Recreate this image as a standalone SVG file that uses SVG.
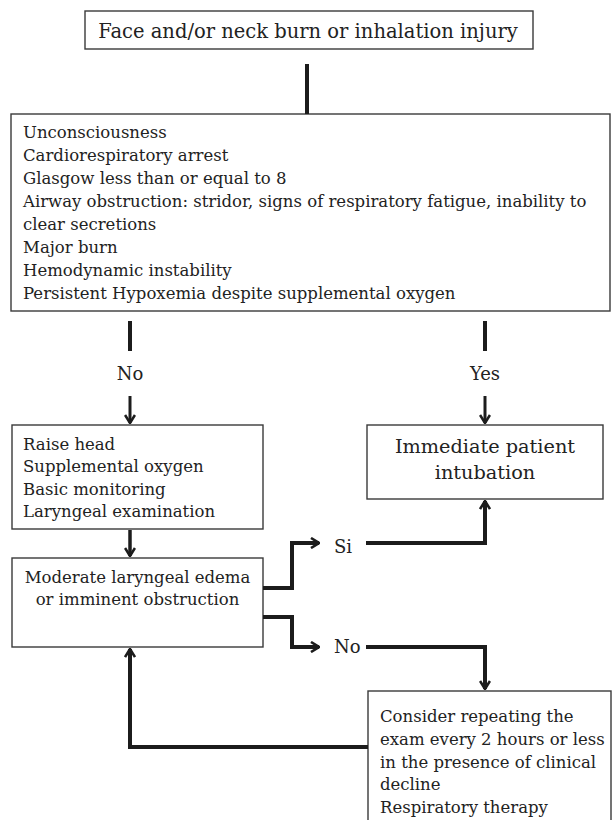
<svg xmlns="http://www.w3.org/2000/svg" width="613" height="820" viewBox="0 0 613 820">
<defs>
<style>
.box{fill:#fff;stroke:#3a3a3a;stroke-width:1.4}
.t{font-family:"DejaVu Serif","Liberation Serif",serif;font-size:16.5px;fill:#222}
.c{text-anchor:middle}
.ln{fill:none;stroke:#1c1c1c;stroke-width:4;stroke-linejoin:miter}
</style>
<marker id="arr" viewBox="0 0 12 12" refX="11" refY="6" markerWidth="12" markerHeight="12" markerUnits="userSpaceOnUse" orient="auto">
<path d="M3,1 L11,6 L3,11" fill="none" stroke="#1c1c1c" stroke-width="2.6"/>
</marker>
</defs>
<rect width="613" height="820" fill="#fff"/>

<g id="n-top">
<rect class="box" x="85" y="11" width="448" height="38"/>
<text class="t c" x="308" y="38" style="font-size:19.5px">Face and/or neck burn or inhalation injury</text>
</g>

<g id="n-criteria">
<rect class="box" x="11" y="114" width="599" height="197"/>
<text class="t" x="23" y="138">Unconsciousness</text>
<text class="t" x="23" y="161">Cardiorespiratory arrest</text>
<text class="t" x="23" y="184">Glasgow less than or equal to 8</text>
<text class="t" x="23" y="207">Airway obstruction: stridor, signs of respiratory fatigue, inability to</text>
<text class="t" x="23" y="230">clear secretions</text>
<text class="t" x="23" y="253">Major burn</text>
<text class="t" x="23" y="276">Hemodynamic instability</text>
<text class="t" x="23" y="299">Persistent Hypoxemia despite supplemental oxygen</text>
</g>

<g id="n-raise">
<rect class="box" x="12" y="425" width="251" height="104"/>
<text class="t" x="23" y="450">Raise head</text>
<text class="t" x="23" y="472">Supplemental oxygen</text>
<text class="t" x="23" y="495">Basic monitoring</text>
<text class="t" x="23" y="517">Laryngeal examination</text>
</g>

<g id="n-intubation">
<rect class="box" x="367" y="425" width="236" height="74"/>
<text class="t c" x="485" y="453" style="font-size:19.3px">Immediate patient</text>
<text class="t c" x="485" y="479" style="font-size:19.3px">intubation</text>
</g>

<g id="n-edema">
<rect class="box" x="12" y="558" width="251" height="89"/>
<text class="t c" x="137.5" y="583">Moderate laryngeal edema</text>
<text class="t c" x="137.5" y="605">or imminent obstruction</text>
</g>

<g id="n-repeat">
<rect class="box" x="368" y="691" width="243" height="140"/>
<text class="t" x="380" y="722">Consider repeating the</text>
<text class="t" x="380" y="745">exam every 2 hours or less</text>
<text class="t" x="380" y="768">in the presence of clinical</text>
<text class="t" x="380" y="790">decline</text>
<text class="t" x="380" y="813">Respiratory therapy</text>
</g>

<g id="labels">
<text class="t c" x="130" y="380" style="font-size:18px">No</text>
<text class="t c" x="485" y="380" style="font-size:18px">Yes</text>
<text class="t" x="334" y="553" style="font-size:18px">Si</text>
<text class="t" x="334" y="653" style="font-size:18px">No</text>
</g>

<g id="connectors">
<line class="ln" x1="307" y1="64" x2="307" y2="114"/>
<line class="ln" x1="130" y1="321" x2="130" y2="351"/>
<line class="ln" x1="485" y1="321" x2="485" y2="351"/>
<path d="M130,396 V423" fill="none" stroke="#1c1c1c" stroke-width="3" marker-end="url(#arr)"/>
<path d="M485,396 V423" fill="none" stroke="#1c1c1c" stroke-width="3" marker-end="url(#arr)"/>
<path d="M130,530 V556" fill="none" stroke="#1c1c1c" stroke-width="3.5" marker-end="url(#arr)"/>
<path class="ln" d="M263,588 H292 V543 H319" marker-end="url(#arr)"/>
<path class="ln" d="M366,543 H485 V501" marker-end="url(#arr)"/>
<path class="ln" d="M263,617 H292 V647 H319" marker-end="url(#arr)"/>
<path class="ln" d="M366,647 H485 V689" marker-end="url(#arr)"/>
<path class="ln" d="M368,747 H130 V649" marker-end="url(#arr)"/>
</g>
</svg>
